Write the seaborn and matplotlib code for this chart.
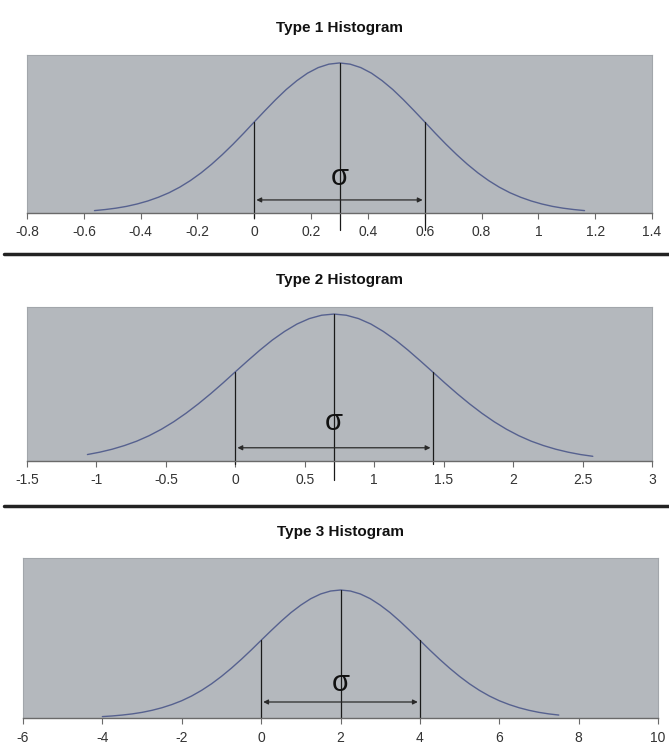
import numpy as np
import pandas as pd
import matplotlib
matplotlib.use("Agg")
import matplotlib.pyplot as plt
from matplotlib.lines import Line2D
import seaborn as sns

titles = ["Type 1 Histogram", "Type 2 Histogram", "Type 3 Histogram"]

profile_z = np.arange(-3.0, 3.001, 0.125)
profile_h = [0.011, 0.016, 0.023, 0.032, 0.044, 0.060, 0.080, 0.105, 0.135, 0.172, 0.216, 0.267,
             0.325, 0.389, 0.458, 0.531, 0.607, 0.682, 0.755, 0.823, 0.882, 0.932, 0.969, 0.992,
             1.000,
             0.992, 0.969, 0.932, 0.882, 0.823, 0.755, 0.682, 0.607, 0.531, 0.458, 0.389, 0.325,
             0.267, 0.216, 0.172, 0.135, 0.105, 0.080, 0.060, 0.044, 0.032, 0.023, 0.016, 0.011]

# per panel: centre, one-sigma marks and where the drawn curve starts / stops (in sigmas)
means = [0.3, 0.71, 2.0]
sigmas = [0.3, 0.71, 2.0]
sigma_lo = [0.0, 0.0, 0.0]
sigma_hi = [0.6, 1.42, 4.0]
z_start = [-2.875, -2.5, -3.0]
z_end = [2.875, 2.625, 2.75]

x_ticks = [np.arange(-0.8, 1.41, 0.2), np.arange(-1.5, 3.01, 0.5), np.arange(-6, 10.1, 2)]
tick_labels = [["-0.8", "-0.6", "-0.4", "-0.2", "0", "0.2", "0.4", "0.6", "0.8", "1", "1.2", "1.4"],
               ["-1.5", "-1", "-0.5", "0", "0.5", "1", "1.5", "2", "2.5", "3"],
               ["-6", "-4", "-2", "0", "2", "4", "6", "8", "10"]]

sns.set_theme(style="white")
plt.rcParams["font.family"] = ["Liberation Sans", "DejaVu Sans"]

W, H = 669, 748
fig = plt.figure(figsize=(W / 100, H / 100), dpi=100)

# panel boxes in pixels: left, right, top, bottom(axis)
boxes = [(27, 652, 55, 213), (27, 652, 307, 461), (23, 658, 558, 718)]
ytops = [1.053, 1.048, 1.25]
title_y = [28, 280, 532]
mean_drop = [-0.11, -0.13, 0.0]
hi_drop = [-0.11, -0.02, 0.0]
lo_drop = [-0.03, -0.02, 0.0]
arrow_y = [0.087, 0.09, 0.125]
sigma_y = [0.24, 0.265, 0.27]

for i in range(3):
    l, r, t, b = boxes[i]
    ax = fig.add_axes([l / W, 1 - b / H, (r - l) / W, (b - t) / H])
    ax.set_facecolor("#b4b8bd")

    df = pd.DataFrame({"z": profile_z, "h": profile_h})
    df = df[(df.z >= z_start[i] - 1e-9) & (df.z <= z_end[i] + 1e-9)]
    df["x"] = means[i] + sigmas[i] * df.z
    sns.lineplot(data=df, x="x", y="h", ax=ax, color="#56618f", lw=1.0, sort=False)

    xt = x_ticks[i]
    ax.set_xlim(xt[0], xt[-1])
    ax.set_ylim(0, ytops[i])
    ax.set_xticks(xt)
    ax.set_xticklabels(tick_labels[i])
    ax.set_yticks([])
    ax.set_xlabel("")
    ax.set_ylabel("")

    for s in ["top", "left", "right"]:
        ax.spines[s].set_color("#a2a6ab")
        ax.spines[s].set_linewidth(0.8)
    ax.spines["bottom"].set_color("#6a6a6a")
    ax.spines["bottom"].set_linewidth(1.0)
    ax.tick_params(axis="x", direction="out", length=4, width=0.8, color="#6a6a6a",
                   labelsize=10, labelcolor="#333333", pad=5, bottom=True)

    # height of the curve where the sigma marks stand
    sig_h = profile_h[list(np.round(profile_z, 3)).index(-1.0)]

    ax.plot([means[i], means[i]], [1.0, mean_drop[i]], color="#1a1a1a", lw=0.9, clip_on=False)
    ax.plot([sigma_lo[i], sigma_lo[i]], [sig_h, lo_drop[i]], color="#1a1a1a", lw=0.9, clip_on=False)
    ax.plot([sigma_hi[i], sigma_hi[i]], [sig_h, hi_drop[i]], color="#1a1a1a", lw=0.9, clip_on=False)

    ax.annotate("", xy=(sigma_lo[i], arrow_y[i]), xytext=(sigma_hi[i], arrow_y[i]),
                arrowprops=dict(arrowstyle="<|-|>", color="#2a2a2a", lw=0.9,
                                mutation_scale=7, shrinkA=1.5, shrinkB=1.5))
    ax.text(means[i], sigma_y[i], "σ", ha="center", va="center", fontsize=21, color="#111111")

    fig.text((l + r) / 2 / W, 1 - title_y[i] / H, titles[i], ha="center", va="center",
             fontsize=11, fontweight="bold", color="#111111")

for yy in [254, 506]:
    fig.add_artist(Line2D([4 / W, 1], [1 - yy / H, 1 - yy / H], transform=fig.transFigure,
                          color="#222222", lw=2.5))

fig.savefig("out.png", dpi=100, facecolor="white")
